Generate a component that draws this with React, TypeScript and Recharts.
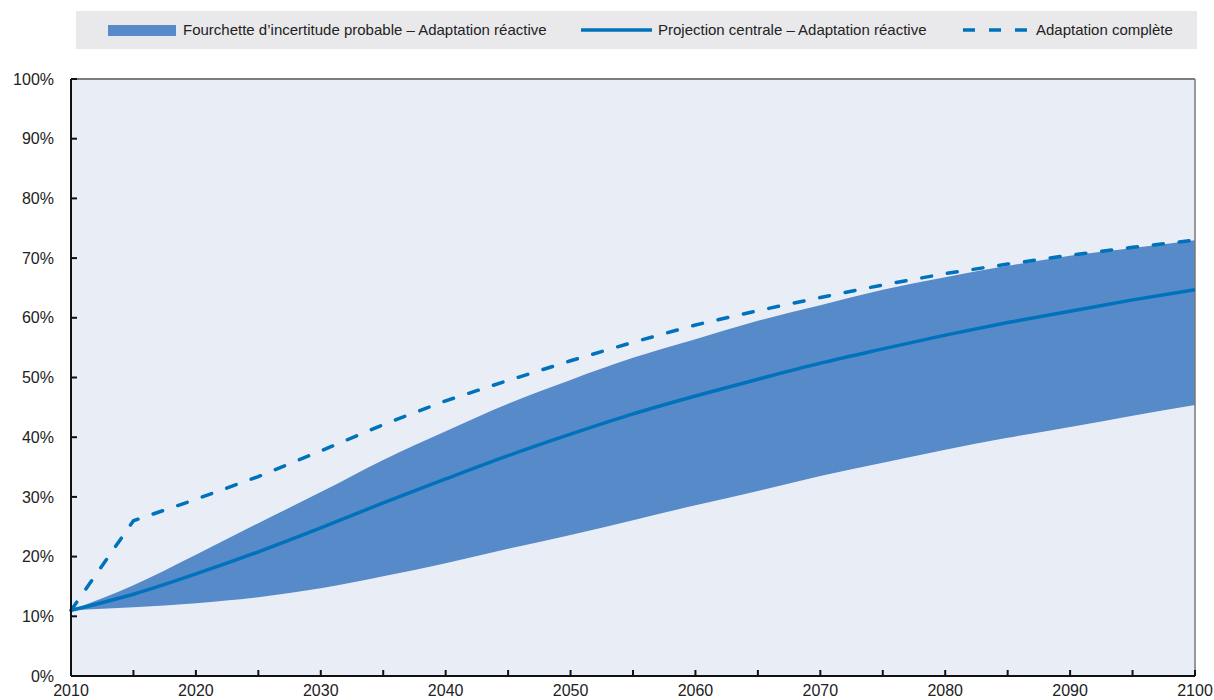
import React from 'react';
import {
  ComposedChart,
  Area,
  Line,
  XAxis,
  YAxis,
  CartesianGrid,
  ReferenceLine,
} from 'recharts';

// Share of projected outcomes, 5-year steps 2010–2100
const years = [2010, 2015, 2020, 2025, 2030, 2035, 2040, 2045, 2050, 2055, 2060, 2065, 2070, 2075, 2080, 2085, 2090, 2095, 2100];
const bandLow = [11, 11.5, 12.2, 13.2, 14.7, 16.7, 18.9, 21.3, 23.6, 26.1, 28.6, 31, 33.5, 35.7, 37.9, 39.9, 41.7, 43.6, 45.4];
const bandHigh = [11, 15.2, 20.3, 25.6, 30.8, 36.2, 41, 45.6, 49.6, 53.3, 56.4, 59.5, 62.1, 64.7, 66.8, 68.7, 70.4, 71.7, 73];
const central = [11, 13.7, 17.1, 20.8, 24.8, 29, 33, 36.9, 40.5, 43.9, 46.9, 49.7, 52.4, 54.8, 57.1, 59.2, 61.1, 63, 64.7];
const fullAdaptation = [11, 26, 29.6, 33.4, 37.7, 42.1, 46.1, 49.5, 52.8, 55.9, 58.8, 61.2, 63.4, 65.5, 67.4, 69, 70.5, 71.8, 73];

const xTicks = years;
const yTicks = [0, 10, 20, 30, 40, 50, 60, 70, 80, 90, 100];

const legendLabels = [
  'Fourchette d’incertitude probable – Adaptation réactive',
  'Projection centrale – Adaptation réactive',
  'Adaptation complète',
];

const BAND = '#568ac8';
const LINE = '#0072bc';
const FONT = '"Liberation Sans", Arial, Helvetica, sans-serif';

const data = years.map((year, i) => ({
  year,
  band: [bandLow[i], bandHigh[i]],
  central: central[i],
  full: fullAdaptation[i],
}));

function LegendBar() {
  const text: React.CSSProperties = {
    position: 'absolute',
    top: 0,
    lineHeight: '38px',
    fontSize: 15,
    color: '#222',
    whiteSpace: 'nowrap',
  };
  return (
    <div
      style={{
        position: 'absolute',
        left: 76,
        top: 11,
        width: 1121,
        height: 38,
        background: '#e9e9eb',
        fontFamily: FONT,
      }}
    >
      <div style={{ position: 'absolute', left: 32, top: 14, width: 68, height: 11, background: BAND }} />
      <span style={{ ...text, left: 107 }}>{legendLabels[0]}</span>
      <svg style={{ position: 'absolute', left: 505, top: 15 }} width={72} height={8}>
        <line x1={0} y1={4} x2={71} y2={4} stroke={LINE} strokeWidth={3.5} />
      </svg>
      <span style={{ ...text, left: 582 }}>{legendLabels[1]}</span>
      <svg style={{ position: 'absolute', left: 884, top: 15 }} width={72} height={8}>
        <line x1={3} y1={4} x2={70} y2={4} stroke={LINE} strokeWidth={3.5} strokeDasharray="12 14" />
      </svg>
      <span style={{ ...text, left: 960 }}>{legendLabels[2]}</span>
    </div>
  );
}

export default function App() {
  return (
    <div style={{ position: 'absolute', left: 0, top: 0, width: 1214, height: 700, background: '#fff' }}>
      <LegendBar />
      <ComposedChart
        width={1214}
        height={700}
        data={data}
        margin={{ top: 79, right: 19, bottom: 0, left: 0 }}
        style={{ fontFamily: FONT }}
      >
        <CartesianGrid horizontal={false} vertical={false} fill="#e9edf6" />
        <XAxis
          dataKey="year"
          type="number"
          domain={[2010, 2100]}
          ticks={xTicks}
          tickFormatter={(v: number) => (v % 10 === 0 ? String(v) : '')}
          interval={0}
          height={24}
          tickSize={-6}
          tickMargin={15}
          axisLine={{ stroke: '#111', strokeWidth: 2 }}
          tickLine={{ stroke: '#111', strokeWidth: 2 }}
          tick={{ fill: '#222', fontSize: 16 }}
        />
        <YAxis
          type="number"
          domain={[0, 100]}
          ticks={yTicks}
          interval={0}
          width={71}
          tickSize={-6}
          tickMargin={23}
          tickFormatter={(v: number) => `${v}%`}
          axisLine={{ stroke: '#111', strokeWidth: 2 }}
          tickLine={{ stroke: '#111', strokeWidth: 2 }}
          tick={{ fill: '#222', fontSize: 16 }}
        />
        <ReferenceLine y={100} stroke="#555" strokeWidth={1.5} />
        <ReferenceLine x={2100} stroke="#777" strokeWidth={1.5} />
        <Area
          type="monotone"
          dataKey="band"
          stroke="none"
          fill={BAND}
          fillOpacity={1}
          isAnimationActive={false}
        />
        <Line
          type="monotone"
          dataKey="central"
          stroke={LINE}
          strokeWidth={3.5}
          dot={false}
          isAnimationActive={false}
        />
        <Line
          type="linear"
          dataKey="full"
          stroke={LINE}
          strokeWidth={3.5}
          strokeDasharray="10 16"
          strokeLinecap="round"
          dot={false}
          isAnimationActive={false}
        />
      </ComposedChart>
    </div>
  );
}
